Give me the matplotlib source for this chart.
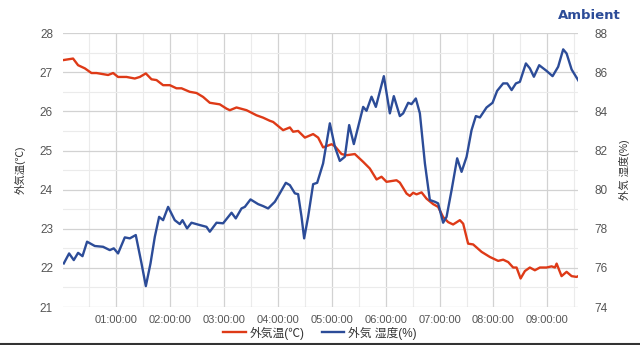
import matplotlib
matplotlib.use("Agg")
import matplotlib.pyplot as plt
from matplotlib.lines import Line2D
from matplotlib.ticker import FixedLocator, FuncFormatter

plt.rcParams['font.family'] = ['Liberation Sans', 'Noto Sans CJK JP', 'DejaVu Sans']

# ===============================
# DATA (minutes since 00:00)
# ===============================
temp_min = [1.0, 12.1, 17.7, 25.2, 32.6, 38.2, 51.1, 56.7, 62.2, 71.6, 80.8, 86.4,
            93.1, 99.4, 105.0, 112.3, 119.8, 127.2, 132.8, 142.0, 149.5, 156.8,
            164.3, 175.4, 182.9, 186.6, 194.0, 205.2, 216.3, 223.6, 231.1, 234.8,
            245.9, 253.4, 257.0, 262.6, 270.1, 279.3, 284.9, 290.4, 299.8, 303.5,
            310.9, 316.5, 325.7, 335.0, 342.4, 349.9, 355.4, 361.0, 372.1, 375.8,
            383.3, 386.9, 390.6, 394.4, 400.0, 405.5, 412.9, 418.4, 424.0, 429.6,
            435.1, 442.6, 446.3, 451.8, 457.4, 466.8, 476.0, 485.2, 490.8, 496.4,
            501.9, 505.7, 510.2, 515.0, 520.5, 526.1, 531.7, 539.1, 544.7, 548.4,
            550.3, 555.8, 561.4, 567.0, 572.5, 576.2]
temp_val = [27.31, 27.35, 27.18, 27.10, 26.98, 26.98, 26.93, 26.98, 26.88, 26.88,
            26.84, 26.88, 26.97, 26.82, 26.80, 26.67, 26.67, 26.59, 26.59, 26.50,
            26.47, 26.37, 26.22, 26.18, 26.07, 26.03, 26.10, 26.03, 25.90, 25.84,
            25.76, 25.73, 25.52, 25.59, 25.48, 25.50, 25.33, 25.42, 25.33, 25.08,
            25.16, 25.11, 24.91, 24.88, 24.91, 24.71, 24.54, 24.26, 24.33, 24.20,
            24.24, 24.18, 23.90, 23.84, 23.92, 23.88, 23.93, 23.77, 23.63, 23.56,
            23.30, 23.17, 23.11, 23.22, 23.13, 22.62, 22.60, 22.41, 22.28, 22.18,
            22.21, 22.15, 22.01, 22.01, 21.73, 21.92, 22.01, 21.94, 22.01, 22.01,
            22.04, 22.01, 22.11, 21.79, 21.90, 21.79, 21.77, 21.81]

hum_min = [1.8, 7.7, 12.9, 17.7, 22.6, 27.7, 36.3, 45.5, 53.0, 57.4, 62.2, 69.7,
           75.3, 81.9, 88.3, 93.1, 98.3, 103.1, 107.9, 112.3, 117.9, 125.3, 130.9,
           133.9, 139.0, 143.9, 153.2, 160.6, 164.3, 171.8, 179.1, 188.5, 193.2,
           199.6, 203.3, 209.6, 218.1, 223.6, 229.2, 236.7, 242.2, 248.9, 253.4,
           259.0, 262.6, 266.4, 269.3, 273.7, 279.3, 283.8, 290.4, 297.9, 303.5,
           309.0, 314.6, 319.4, 324.6, 329.4, 335.0, 338.7, 344.3, 349.1, 358.0,
           364.7, 369.1, 375.8, 379.5, 385.1, 388.8, 393.6, 398.1, 403.7, 409.2,
           414.8, 418.4, 424.0, 427.8, 433.4, 439.6, 444.5, 450.1, 455.6, 460.4,
           464.9, 472.3, 479.0, 484.1, 490.8, 495.3, 500.2, 505.0, 509.4, 516.1,
           520.5, 525.0, 530.9, 539.1, 545.8, 552.0, 557.6, 561.4, 567.0, 575.4]
hum_val = [76.23, 76.74, 76.40, 76.77, 76.60, 77.34, 77.12, 77.08, 76.91, 77.00,
           76.74, 77.56, 77.51, 77.68, 76.23, 75.07, 76.23, 77.59, 78.61, 78.44,
           79.12, 78.44, 78.24, 78.44, 78.02, 78.31, 78.19, 78.10, 77.85, 78.31,
           78.28, 78.82, 78.53, 79.04, 79.12, 79.50, 79.26, 79.16, 79.04, 79.38,
           79.81, 80.35, 80.23, 79.81, 79.77, 78.61, 77.51, 78.61, 80.28, 80.35,
           81.34, 83.39, 82.19, 81.47, 81.68, 83.30, 82.33, 83.21, 84.23, 84.03,
           84.75, 84.23, 85.80, 83.90, 84.78, 83.76, 83.90, 84.44, 84.37, 84.66,
           83.90, 81.34, 79.47, 79.38, 79.30, 78.31, 78.61, 79.98, 81.60, 80.91,
           81.68, 83.04, 83.76, 83.69, 84.20, 84.44, 85.05, 85.43, 85.43, 85.09,
           85.43, 85.51, 86.45, 86.20, 85.77, 86.36, 86.07, 85.80, 86.28, 87.17,
           86.96, 86.14, 85.51]

hour_ticks = [60, 120, 180, 240, 300, 360, 420, 480, 540]
temp_ticks = [21, 22, 23, 24, 25, 26, 27, 28]
hum_ticks = [74, 76, 78, 80, 82, 84, 86, 88]

RED = "#de3a17"
BLUE = "#2c4c98"
GRAY = "#555555"

# ===============================
# PLOT
# ===============================
fig = plt.figure(figsize=(6.4, 3.45), dpi=100)
ax = fig.add_axes([0.098, 0.110, 0.805, 0.794])
ax2 = ax.twinx()

ax.plot(temp_min, temp_val, color=RED, lw=1.7, label="外気温(℃)", zorder=3)
ax2.plot(hum_min, hum_val, color=BLUE, lw=1.7, label="外気 湿度(%)", zorder=3)

ax.set_xlim(0.6, 574.0)
ax.set_ylim(21, 28)
ax2.set_ylim(74, 88)

ax.xaxis.set_major_locator(FixedLocator(hour_ticks))
ax.xaxis.set_minor_locator(FixedLocator([m + 30 for m in [0] + hour_ticks]))
ax.xaxis.set_major_formatter(FuncFormatter(lambda v, p: "%02d:00:00" % int(round(v / 60))))
ax.yaxis.set_major_locator(FixedLocator(temp_ticks))
ax.yaxis.set_minor_locator(FixedLocator([t + 0.5 for t in temp_ticks[:-1]]))
ax2.yaxis.set_major_locator(FixedLocator(hum_ticks))

ax.grid(which="major", color="#d2d2d2", lw=0.9)
ax.grid(which="minor", color="#ebebeb", lw=0.8)
ax.set_axisbelow(True)

for a in (ax, ax2):
    for s in a.spines.values():
        s.set_visible(False)
    a.tick_params(which="both", length=0, labelsize=8.5, labelcolor=GRAY)
ax.tick_params(axis="y", pad=7)
ax2.tick_params(axis="y", pad=12)
ax.tick_params(axis="x", pad=6, labelsize=8)

ax.set_ylabel("外気温(℃)", fontsize=7.5, color="#333333", labelpad=10)
ax2.set_ylabel("外気 湿度(%)", fontsize=7.5, color="#333333", rotation=90, labelpad=8)

fig.text(0.97, 0.975, "Ambient", ha="right", va="top", fontsize=9.5,
         fontweight="bold", color=BLUE, family=["DejaVu Sans"])

handles = ax.get_lines() + ax2.get_lines()
fig.legend(handles, [h.get_label() for h in handles], loc="lower center",
           bbox_to_anchor=(0.5, -0.015), ncol=2, frameon=False, fontsize=8.5,
           handlelength=1.9, handletextpad=0.3, columnspacing=1.5,
           labelcolor="#333333")

fig.add_artist(Line2D([0, 1], [0.004, 0.004], color="#333333", lw=1.5,
                      transform=fig.transFigure))

fig.savefig("out.png", dpi=100)
